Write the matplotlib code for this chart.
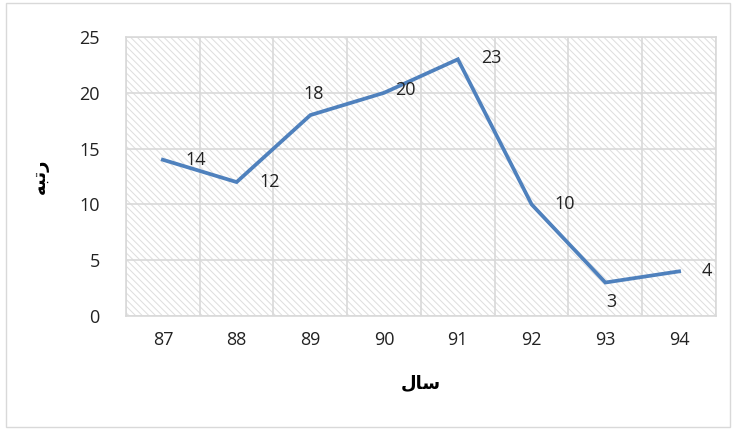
import matplotlib
matplotlib.use('Agg')
import matplotlib.pyplot as plt
from matplotlib.patches import Rectangle

years = ['87', '88', '89', '90', '91', '92', '93', '94']
ranks = [14, 12, 18, 20, 23, 10, 3, 4]
# label offsets in points (dx, dy) per point
label_offsets = [(24, 0), (24, 0), (2, 15), (15, 2), (24, 1), (24, 0), (4, -14), (20, 0)]

# Persian labels written in presentation forms (matplotlib has no shaping)
xlabel = '\uFEDD\uFE8E\uFEB3'           # سال
ylabel = '\uFEEA\uFE92\uFE97\uFEAD'     # رتبه

plt.rcParams['font.family'] = ['Open Sans', 'DejaVu Sans']
plt.rcParams['hatch.linewidth'] = 0.7
grid_color = '#d9d9d9'
line_color = '#4F81BD'

fig = plt.figure(figsize=(7.36, 4.30), dpi=100)
ax = fig.add_axes([0.1712, 0.2651, 0.8016, 0.6489])

# hatched plot area background
ax.add_patch(Rectangle((0, 0), 1, 1, transform=ax.transAxes, facecolor='white',
                       edgecolor='#dddddd', hatch='\\\\\\\\\\', linewidth=0, zorder=0))

x = list(range(len(years)))
ax.plot(x, ranks, color=line_color, linewidth=2.7, zorder=3, solid_joinstyle='miter')

for xi, v, (dx, dy) in zip(x, ranks, label_offsets):
    ax.annotate(str(v), (xi, v), xytext=(dx, dy), textcoords='offset points',
                ha='center', va='center', fontsize=13, color='#222222', zorder=4)

ax.set_xlim(-0.5, len(years) - 0.5)
ax.set_ylim(0, 25)
ax.set_yticks(range(0, 26, 5))
ax.set_xticks(x)
ax.set_xticklabels(years)
ax.set_xticks([i + 0.5 for i in range(-1, len(years))], minor=True)

ax.grid(True, which='major', axis='y', color=grid_color, linewidth=1.2, zorder=1)
ax.grid(True, which='minor', axis='x', color=grid_color, linewidth=1.2, zorder=1)
ax.set_axisbelow(True)
ax.tick_params(axis='both', which='both', length=0, labelsize=13, colors='#222222')
ax.tick_params(axis='x', pad=11)
ax.tick_params(axis='y', pad=19)
for s in ax.spines.values():
    s.set_color(grid_color)
    s.set_linewidth(1.2)

ax.set_xlabel(xlabel, fontsize=13, fontweight='bold', labelpad=18, family='DejaVu Sans')
ax.set_ylabel(ylabel, fontsize=13, fontweight='bold', labelpad=22, family='DejaVu Sans')

# outer chart border
fig.add_artist(Rectangle((0.008, 0.008), 0.984, 0.984, transform=fig.transFigure,
                         fill=False, edgecolor='#d9d9d9', linewidth=1))

fig.savefig('out.png', dpi=100)
